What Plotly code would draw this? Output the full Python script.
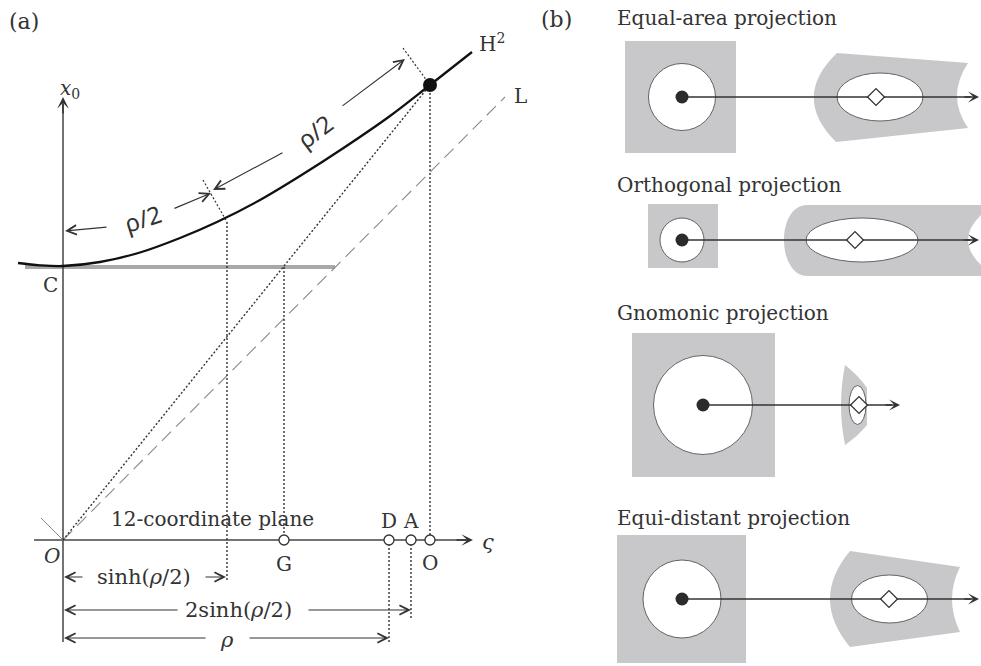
import plotly.graph_objects as go

# ---------------- data (pixel-space diagram coordinates) ----------------
# Panel (a): hyperbola H^2
CURVE_X = [18, 40, 63, 100, 140, 180, 217, 260, 300, 345, 390, 430, 472]
CURVE_Y = [263, 265.3, 266, 262, 252.5, 238, 222, 200, 176, 147, 116, 85, 52]
ORIGIN = (63, 540)
POINT_X, POINT_Y = [430], [85]
AXIS_LABELS = ["G", "D", "A", "O"]
AXIS_X = [284, 389, 411, 430]
AXIS_LABEL_Y = [564, 521, 521, 563]

# Panel (b): projections
ROW_TITLES = ["Equal-area projection", "Orthogonal projection",
              "Gnomonic projection", "Equi-distant projection"]
ROW_TITLE_Y = [18, 185, 313, 518]
ROW_Y = [97, 240, 405, 599]
SQ_X0 = [625, 648, 632, 617]
SQ_X1 = [736, 718, 775, 746]
SQ_Y0 = [41, 204, 333, 535]
SQ_Y1 = [153, 268, 477, 663]
CIRC_X = [682, 682, 703, 682]
CIRC_R = [33.5, 22, 49.5, 39]
ELL_X = [880, 862, 857.5, 889.5]
ELL_RX = [43, 56, 8.5, 38]
ELL_RY = [24, 22, 19.5, 24]
DIAM_X = [876, 855, 859, 889]
ARROW_END = [979, 979, 900, 979]
GREY_PATHS = [
    "M837,53 L968,63 Q946,96 968,128 L836,142 Q791,97 837,53 Z",
    "M807,205 L981,205 L981,215 Q955,240 981,265 L981,276 L807,276 "
    "C792,276 784,258 784,240 C784,222 792,205 807,205 Z",
    "M845,365 Q858,375 867,388 L867,425 Q858,436 845,445 Q837,405 845,365 Z",
    "M850,551 L960,567 Q944,599 960,632 L850,647 Q810,599 850,551 Z",
]

INK = "#333333"
GREY = "#c8c8ca"
SERIF = "DejaVu Serif"
SANS = "Noto Sans"

fig = go.Figure()
shapes = []
ann = []


def line(x0, y0, x1, y1, color=INK, width=1.3, dash=None):
    d = dict(type="line", xref="x", yref="y", x0=x0, y0=y0, x1=x1, y1=y1,
             line=dict(color=color, width=width), layer="below")
    if dash:
        d["line"]["dash"] = dash
    shapes.append(d)


def arrow(tx, ty, fx, fy, head=5, size=1.7, width=1.1, color=INK):
    ann.append(dict(x=tx, y=ty, ax=fx, ay=fy, xref="x", yref="y", axref="x",
                    ayref="y", text="", showarrow=True, arrowhead=head,
                    arrowsize=size, arrowwidth=width, arrowcolor=color,
                    standoff=0, startstandoff=0))


def text(x, y, s, size=20, family=SERIF, xanchor="center", angle=0,
         color=INK):
    ann.append(dict(x=x, y=y, xref="x", yref="y", text=s, showarrow=False,
                    xanchor=xanchor, yanchor="middle", textangle=angle,
                    font=dict(family=family, size=size, color=color)))


# ---------------- panel (a) ----------------
ox, oy = ORIGIN
# grey 12-plane bar
line(25, 267, 335, 267, color="#a8a8aa", width=4)
# axes
line(ox, 642, ox, 104, color="#444444", width=1.5)
arrow(ox, 97, ox, 115, head=3, size=1.3, width=1.5, color="#333333")
line(34, oy, 466, oy, color="#444444", width=1.5)
arrow(473, oy, 455, oy, head=3, size=1.3, width=1.5, color="#333333")
# small diagonal near O
line(41, 518, ox, oy, color="#888888", width=1)
# asymptote L
line(ox, oy, 505, 97, color="#8a8a8a", width=1.1, dash="13px,7px")
# dotted construction lines
DOT = "2px,2px"
line(ox, oy, POINT_X[0], POINT_Y[0], width=1.4, dash=DOT)
line(227, 222, 227, 582, width=1.4, dash=DOT)
line(284, 267, 284, oy, width=1.4, dash=DOT)
line(430, 85, 430, oy, width=1.4, dash=DOT)
line(389, oy, 389, 642, width=1.4, dash=DOT)
line(411, oy, 411, 620, width=1.4, dash=DOT)
line(203, 180, 227, 222, width=1.2, dash=DOT)
line(403, 48, 430, 85, width=1.2, dash=DOT)

# curve
fig.add_trace(go.Scatter(x=CURVE_X, y=CURVE_Y, mode="lines",
                         line=dict(color="#111111", width=2.3, shape="spline",
                                   smoothing=1.0),
                         hoverinfo="skip", showlegend=False))
# point on H^2
fig.add_trace(go.Scatter(x=POINT_X, y=POINT_Y, mode="markers",
                         marker=dict(size=14, color="#111111"),
                         hoverinfo="skip", showlegend=False))
# open circles on axis
fig.add_trace(go.Scatter(x=AXIS_X, y=[oy] * len(AXIS_X), mode="markers",
                         marker=dict(size=10, color="white",
                                     line=dict(color="#333333", width=1.3)),
                         hoverinfo="skip", showlegend=False))

# rho/2 arrows along curve
arrow(65, 231, 108, 227)
arrow(211, 193, 173, 209)
arrow(213, 190, 284, 152)
arrow(405, 59, 341, 107)
text(142, 218, "\u03c1/2", size=24, family=SANS, angle=-18)
text(314, 131, "\u03c1/2", size=24, family=SANS, angle=-37)

# dimension arrows
arrow(64, 577, 84, 577)
arrow(226, 577, 204, 577)
text(144, 577, "sinh(<i>\u03c1</i>/2)", size=21)
arrow(64, 610, 179, 610)
arrow(411, 610, 307, 610)
text(238, 610, "2sinh(<i>\u03c1</i>/2)", size=21)
arrow(64, 638, 207, 638)
arrow(389, 638, 248, 638)
text(227, 640, "<i>\u03c1</i>", size=21)

# labels panel (a)
text(24, 21, "(a)", size=22)
text(70, 89, "<i>x</i><sub>0</sub>", size=20)
text(492, 43, "H<sup>2</sup>", size=20)
text(520, 96, "L", size=20)
text(50, 285, "C", size=20)
text(52, 556, "<i>O</i>", size=20)
text(212, 519, "12-coordinate plane", size=20)
for lab, lx, ly in zip(AXIS_LABELS, AXIS_X, AXIS_LABEL_Y):
    text(lx, ly, lab, size=20)
text(488, 542, "<i>\u03c2</i>", size=21)

# ---------------- panel (b) ----------------
text(556, 19, "(b)", size=22)
for i in range(4):
    y = ROW_Y[i]
    text(615, ROW_TITLE_Y[i], ROW_TITLES[i], size=20, xanchor="left")
    shapes.append(dict(type="rect", xref="x", yref="y", x0=SQ_X0[i],
                       x1=SQ_X1[i], y0=SQ_Y0[i], y1=SQ_Y1[i], fillcolor=GREY,
                       line=dict(width=0), layer="below"))
    shapes.append(dict(type="path", xref="x", yref="y", path=GREY_PATHS[i],
                       fillcolor=GREY, line=dict(width=0), layer="below"))
    cx, r = CIRC_X[i], CIRC_R[i]
    shapes.append(dict(type="circle", xref="x", yref="y", x0=cx - r,
                       x1=cx + r, y0=y - r, y1=y + r, fillcolor="white",
                       line=dict(color="#555555", width=0.9), layer="below"))
    ex, rx, ry = ELL_X[i], ELL_RX[i], ELL_RY[i]
    shapes.append(dict(type="circle", xref="x", yref="y", x0=ex - rx,
                       x1=ex + rx, y0=y - ry, y1=y + ry, fillcolor="white",
                       line=dict(color="#555555", width=0.9), layer="below"))
    line(cx, y, ARROW_END[i] - 8, y, color="#333333", width=1.4)
    arrow(ARROW_END[i], y, ARROW_END[i] - 16, y, head=3, size=1.3, width=1.4)

fig.add_trace(go.Scatter(x=CIRC_X, y=ROW_Y, mode="markers",
                         marker=dict(size=13, color="#2b2b2b"),
                         hoverinfo="skip", showlegend=False))
fig.add_trace(go.Scatter(x=DIAM_X, y=ROW_Y, mode="markers",
                         marker=dict(size=13, symbol="diamond", color="white",
                                     line=dict(color="#333333", width=1.3)),
                         hoverinfo="skip", showlegend=False))

fig.update_layout(
    width=981, height=666, margin=dict(l=0, r=0, t=0, b=0),
    paper_bgcolor="white", plot_bgcolor="white",
    xaxis=dict(range=[0, 981], visible=False, fixedrange=True),
    yaxis=dict(range=[666, 0], visible=False, fixedrange=True),
    shapes=shapes, annotations=ann, showlegend=False,
)
fig.write_html("out.html", config={"displayModeBar": False},
               post_script="document.body.style.margin='0';"
                           "document.body.style.overflow='hidden';")
